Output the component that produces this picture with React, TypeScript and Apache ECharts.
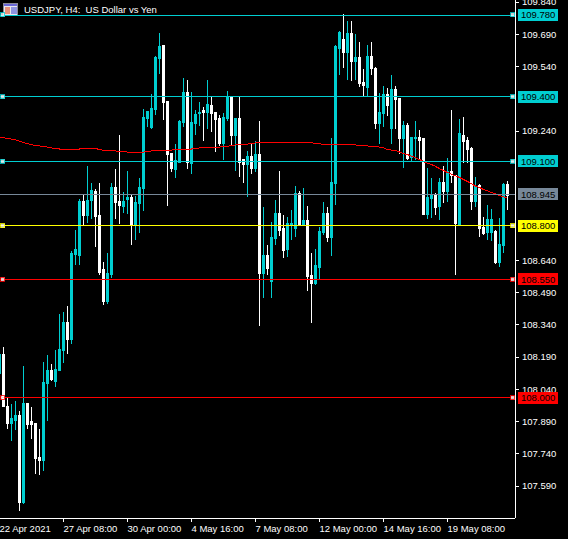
import React, { useEffect, useRef } from "react";
import * as echarts from "echarts";

const opens = [
108.114,108.202,107.961,107.878,107.896,107.915,107.511,107.975,107.887,107.878,
107.720,107.706,108.068,108.128,108.077,108.128,108.221,108.351,108.272,108.667,
108.662,108.912,108.847,108.917,108.959,108.847,108.597,108.448,108.574,108.977,
108.912,108.889,108.922,108.931,108.801,108.903,108.973,109.297,109.256,109.339,
109.576,109.636,109.376,109.135,109.061,109.093,109.279,109.418,109.089,109.274,
109.321,109.335,109.325,109.358,109.325,109.297,109.181,109.297,109.395,109.219,
109.297,109.107,109.084,109.121,109.065,109.130,108.578,108.662,108.541,108.741,
108.857,108.787,108.690,108.806,108.787,108.950,108.806,108.824,108.569,108.532,
108.606,108.768,108.857,108.745,108.996,109.622,109.664,109.604,109.692,109.562,
109.581,109.465,109.441,109.585,109.529,109.274,109.321,109.409,109.251,109.432,
109.390,109.205,109.265,109.116,109.205,109.209,109.205,108.852,108.926,108.945,
108.889,109.000,108.959,109.051,109.033,108.806,109.219,109.195,109.158,108.912,
108.987,108.792,108.768,108.768,108.773,108.629,108.708,108.991];

const closes = [
108.202,107.957,107.878,107.901,107.915,107.511,107.975,107.873,107.873,107.715,
107.706,108.072,108.128,108.086,108.133,108.226,108.351,108.272,108.671,108.690,
108.912,108.847,108.917,108.963,108.843,108.583,108.448,108.578,108.977,108.908,
108.894,108.912,108.931,108.801,108.908,108.977,109.302,109.330,109.344,109.581,
109.632,109.372,109.130,109.065,109.103,109.284,109.418,109.093,109.279,109.316,
109.325,109.325,109.362,109.321,109.293,109.181,109.302,109.395,109.219,109.297,
109.093,109.084,109.121,109.065,109.130,108.578,108.662,108.601,108.745,108.857,
108.778,108.685,108.810,108.810,108.950,108.806,108.824,108.564,108.532,108.615,
108.773,108.857,108.745,109.000,109.632,109.697,109.604,109.692,109.562,109.581,
109.460,109.451,109.585,109.529,109.274,109.325,109.409,109.358,109.432,109.386,
109.205,109.265,109.112,109.209,109.209,109.195,108.852,108.931,108.940,108.885,
109.000,108.959,109.051,109.033,108.810,109.228,109.191,109.154,108.912,108.982,
108.787,108.764,108.829,108.829,108.629,108.713,108.991,108.940];

const lows = [
108.114,107.957,107.854,107.799,107.850,107.474,107.506,107.854,107.808,107.646,
107.641,107.660,107.892,108.077,108.049,108.128,108.161,108.202,108.249,108.615,
108.615,108.801,108.810,108.829,108.699,108.569,108.430,108.434,108.555,108.829,
108.806,108.857,108.852,108.708,108.731,108.764,108.866,109.260,109.251,109.316,
109.506,109.293,108.889,109.047,109.019,109.093,109.260,109.061,109.038,109.219,
109.265,109.191,109.251,109.237,109.140,109.172,109.107,109.288,109.172,109.056,
109.028,108.996,108.931,109.042,109.051,108.332,108.462,108.569,108.462,108.708,
108.750,108.648,108.653,108.731,108.745,108.806,108.801,108.495,108.346,108.523,
108.550,108.755,108.722,108.657,108.894,109.502,109.534,109.478,109.474,109.478,
109.446,109.400,109.400,109.502,109.251,109.181,109.256,109.311,109.181,109.251,
109.135,109.070,109.103,109.098,109.103,109.103,108.847,108.829,108.833,108.847,
108.824,108.903,108.908,108.996,108.569,108.801,109.093,109.089,108.871,108.885,
108.745,108.755,108.731,108.727,108.620,108.606,108.671,108.871];

const highs = [
108.221,108.235,107.998,107.970,107.984,107.938,108.147,107.975,107.957,107.878,
107.854,108.165,108.198,108.156,108.221,108.388,108.397,108.425,108.680,108.778,
108.922,108.945,109.075,109.000,108.968,108.996,108.629,108.671,109.000,109.065,
109.223,108.954,109.056,108.945,108.936,109.019,109.344,109.335,109.413,109.590,
109.697,109.641,109.381,109.135,109.177,109.293,109.488,109.478,109.423,109.339,
109.376,109.353,109.478,109.404,109.330,109.316,109.325,109.427,109.395,109.302,
109.404,109.107,109.149,109.186,109.195,109.288,108.885,108.708,108.815,108.917,
109.056,108.847,108.838,108.871,108.982,108.963,108.977,108.889,108.671,108.690,
108.792,108.908,108.885,109.209,109.641,109.706,109.785,109.752,109.752,109.692,
109.655,109.529,109.641,109.655,109.539,109.418,109.451,109.441,109.502,109.451,
109.395,109.288,109.279,109.214,109.284,109.246,109.209,109.070,109.019,108.950,
109.019,109.075,109.116,109.339,109.033,109.297,109.307,109.214,109.163,109.028,
108.991,108.838,108.898,108.875,108.778,108.833,109.000,109.005];

const movingAverage = [
109.212,109.209,109.205,109.202,109.198,109.193,109.186,109.181,109.177,109.172,
109.170,109.168,109.165,109.161,109.158,109.156,109.156,109.156,109.156,109.156,
109.156,109.158,109.158,109.158,109.158,109.154,109.149,109.147,109.147,109.147,
109.144,109.144,109.142,109.140,109.140,109.142,109.142,109.144,109.147,109.149,
109.149,109.149,109.151,109.151,109.154,109.156,109.156,109.156,109.156,109.158,
109.161,109.161,109.161,109.163,109.165,109.165,109.168,109.168,109.172,109.175,
109.177,109.179,109.179,109.181,109.184,109.184,109.184,109.184,109.184,109.184,
109.184,109.184,109.186,109.186,109.188,109.188,109.188,109.186,109.186,109.181,
109.181,109.177,109.177,109.177,109.175,109.175,109.175,109.175,109.175,109.175,
109.172,109.170,109.170,109.168,109.168,109.165,109.161,109.154,109.151,109.149,
109.142,109.135,109.130,109.123,109.116,109.107,109.098,109.089,109.084,109.075,
109.065,109.056,109.047,109.038,109.031,109.024,109.014,109.005,108.994,108.984,
108.977,108.968,108.961,108.954,108.947,108.940,108.933,108.931];

const categoryTicks = [0, 16, 32, 48, 64, 80, 96, 112];
const timeLabels = ["22 Apr 2021", "27 Apr 08:00", "30 Apr 00:00", "4 May 16:00", "7 May 08:00", "12 May 00:00", "14 May 16:00", "19 May 08:00"];
const priceTicks = [109.84, 109.69, 109.54, 109.24, 108.64, 108.49, 108.34, 108.19, 108.04, 107.89, 107.74, 107.59];

const levelPrices = [109.78, 109.4, 109.1, 108.945, 108.8, 108.55, 108.0];
const levelColors = ["#00CED1", "#00CED1", "#00CED1", "#778899", "#FFFF00", "#FF0000", "#FF0000"];
const levelHandles = [true, true, true, false, true, true, true];

const FONT = '"Liberation Sans", Arial, sans-serif';

export default function App() {
  const ref = useRef<HTMLDivElement>(null);
  useEffect(() => {
    document.body.style.margin = "0";
    document.body.style.background = "#000";
    document.documentElement.style.overflow = "hidden";
    const chart = echarts.init(ref.current!, undefined, { renderer: "svg" });
    const handleData: any[] = [];
    levelPrices.forEach((p, k) => {
      if (!levelHandles[k]) return;
      [0.75, 128.25].forEach((x) => {
        handleData.push({ value: [x, p], itemStyle: { color: "#fff", borderColor: levelColors[k], borderWidth: 1 } });
      });
    });
    chart.setOption({
      animation: false,
      backgroundColor: "#000",
      grid: { left: -3, top: 0, width: 518, height: 518, outerBoundsMode: "none", containLabel: false },
      xAxis: {
        type: "value",
        min: -0.625,
        max: 128.875,
        splitLine: { show: false },
        axisLine: { show: true, onZero: false, lineStyle: { color: "#fff", width: 1 } },
        axisTick: { show: true, length: 4, customValues: categoryTicks, lineStyle: { color: "#fff" } },
        axisLabel: {
          show: true,
          customValues: categoryTicks,
          formatter: (v: number) => timeLabels[categoryTicks.indexOf(v)] ?? "",
          color: "#fff",
          fontFamily: FONT,
          fontSize: 9.5,
          align: "left",
          margin: 5,
          hideOverlap: false,
        },
      },
      yAxis: {
        type: "value",
        position: "right",
        min: 107.4406,
        max: 109.8487,
        scale: true,
        splitLine: { show: false },
        axisLine: { show: true, onZero: false, lineStyle: { color: "#fff", width: 1 } },
        axisTick: { show: true, length: 4, customValues: priceTicks, lineStyle: { color: "#fff" } },
        axisLabel: {
          show: true,
          customValues: priceTicks,
          formatter: (v: number) => v.toFixed(3),
          color: "#fff",
          fontFamily: FONT,
          fontSize: 9.5,
          margin: 7,
          hideOverlap: false,
        },
      },
      series: [
        {
          type: "candlestick",
          barWidth: 2,
          data: opens.map((o, i) => [i, o, closes[i], lows[i], highs[i]]),
          itemStyle: {
            color: "#00CED1",
            borderColor: "#00CED1",
            color0: "#FFFFFF",
            borderColor0: "#FFFFFF",
            borderWidth: 1,
          },
          markLine: {
            silent: true,
            symbol: "none",
            precision: 3,
            data: levelPrices.map((p, k) => ({
              yAxis: p,
              lineStyle: { color: levelColors[k], width: 1, type: "solid" },
              label: {
                show: true,
                position: "end",
                distance: 3,
                formatter: p.toFixed(3),
                color: "#000",
                fontFamily: FONT,
                fontSize: 9.5,
                backgroundColor: levelColors[k],
                padding: [1, 3, 1, 3],
              },
            })),
          },
        },
        {
          type: "line",
          data: movingAverage.map((v, i) => [i, v]),
          showSymbol: false,
          symbol: "none",
          lineStyle: { color: "#FF0000", width: 1 },
          z: 4,
        },
        {
          type: "scatter",
          symbol: "rect",
          symbolSize: 4,
          data: handleData,
          z: 6,
        },
      ],
      graphic: [
        {
          type: "group",
          z: 100,
          children: [
            { type: "rect", shape: { x: 3.5, y: 3.5, width: 14, height: 12 }, style: { fill: "#e8e8f0", stroke: "#8a8a96", lineWidth: 1 } },
            { type: "rect", shape: { x: 4, y: 4, width: 13, height: 2 }, style: { fill: "#6a68d8" } },
            { type: "rect", shape: { x: 5, y: 7, width: 5, height: 7 }, style: { fill: "#e8927c" } },
            { type: "rect", shape: { x: 11, y: 7, width: 6, height: 7 }, style: { fill: "#8f94e0" } },
          ],
        },
        {
          type: "text",
          x: 24,
          y: 4,
          z: 100,
          style: { text: "USDJPY, H4:  US Dollar vs Yen", fill: "#fff", font: `9.5px ${FONT}` },
        },
      ],
    });
    return () => chart.dispose();
  }, []);
  return (
    <div style={{ width: 568, height: 539, overflow: "hidden" }}>
      <style>{"svg path { shape-rendering: crispEdges; }"}</style>
      <div ref={ref} style={{ width: 568, height: 539 }} />
    </div>
  );
}
